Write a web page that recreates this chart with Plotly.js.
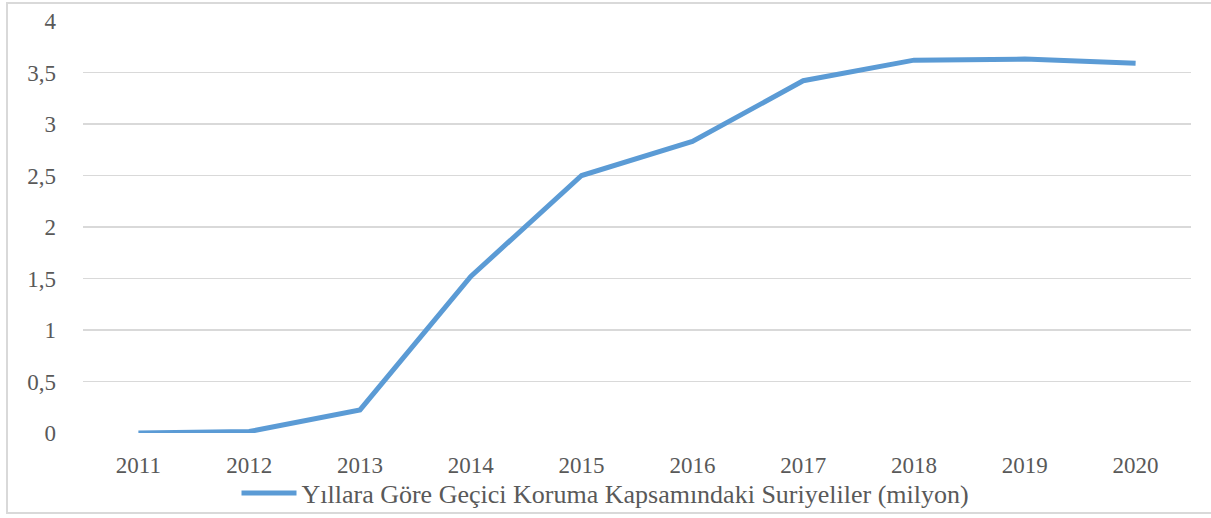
<!DOCTYPE html>
<html>
<head>
<meta charset="utf-8">
<script src="https://cdn.plot.ly/plotly-3.0.1.min.js"></script>
<style>
html,body{margin:0;padding:0;background:#fff;}
#frame{position:absolute;left:6px;top:2px;width:1220px;height:512px;border:2px solid #d9d9d9;box-sizing:border-box;}
#chart{position:absolute;left:0;top:0;width:1211px;height:518px;}
</style>
</head>
<body>
<div id="frame"></div>
<div id="chart"></div>
<script>
const years = ['2011','2012','2013','2014','2015','2016','2017','2018','2019','2020'];
const values = [0, 0.014, 0.224, 1.52, 2.5, 2.83, 3.42, 3.62, 3.63, 3.59];
const yTickVals = [0, 0.5, 1, 1.5, 2, 2.5, 3, 3.5, 4];
const yTickText = ['0', '0,5', '1', '1,5', '2', '2,5', '3', '3,5', '4'];
const seriesName = 'Yıllara Göre Geçici Koruma Kapsamındaki Suriyeliler (milyon)';

const fam = '"Liberation Serif", "Times New Roman", serif';
const tickFont = {family: fam, size: 23, color: '#595959'};
const legendFont = {family: fam, size: 26, color: '#595959'};

Plotly.newPlot('chart', [{
  x: years,
  y: values,
  type: 'scatter',
  mode: 'lines',
  name: seriesName,
  line: {color: '#5b9bd5', width: 5}
}], {
  width: 1211,
  height: 518,
  margin: {l: 83, r: 20, t: 21, b: 85},
  paper_bgcolor: 'rgba(0,0,0,0)',
  plot_bgcolor: 'rgba(0,0,0,0)',
  font: tickFont,
  showlegend: true,
  legend: {
    orientation: 'h',
    xref: 'container', yref: 'container',
    x: 0.5, xanchor: 'center',
    y: 0.048, yanchor: 'middle',
    font: legendFont,
    itemwidth: 55
  },
  xaxis: {
    type: 'category',
    range: [-0.5, 9.5],
    showgrid: false,
    zeroline: false,
    showline: false,
    ticks: '',
    ticklabelstandoff: 16,
    automargin: false,
    tickfont: tickFont
  },
  yaxis: {
    range: [0, 4],
    tickvals: yTickVals,
    ticktext: yTickText,
    showgrid: true,
    gridcolor: '#d9d9d9',
    gridwidth: 1.5,
    zeroline: false,
    showline: false,
    ticks: '',
    ticklabelstandoff: 26,
    automargin: false,
    tickfont: tickFont
  }
}, {displayModeBar: false, staticPlot: true});
</script>
</body>
</html>
